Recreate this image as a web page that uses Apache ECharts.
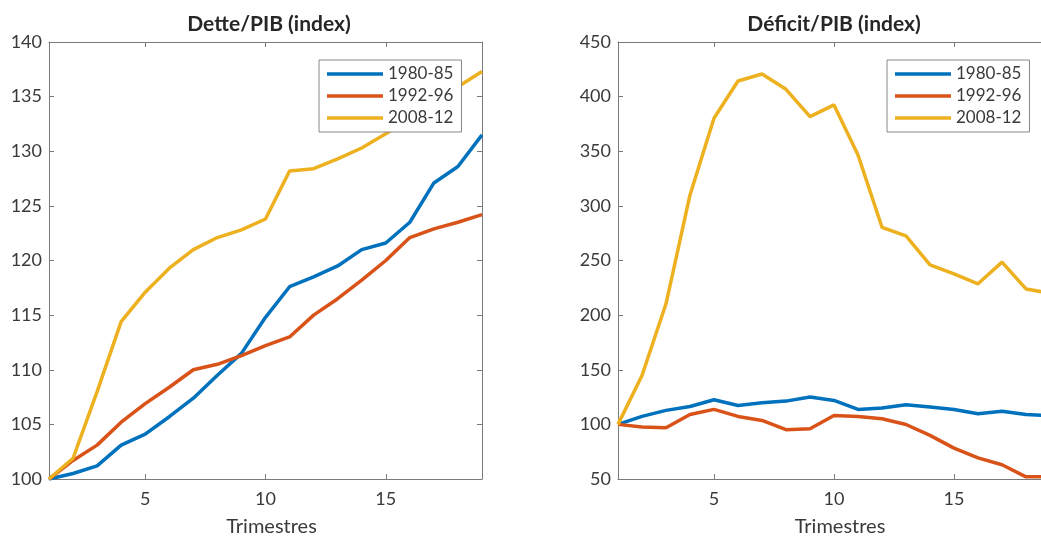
<!DOCTYPE html>
<html>
<head>
<meta charset="utf-8">
<script src="https://cdn.jsdelivr.net/npm/echarts@6/dist/echarts.min.js"></script>
<style>
html,body{margin:0;padding:0;background:#fff;overflow:hidden;}
#chart{width:1041px;height:537px;}
</style>
</head>
<body>
<div id="chart"></div>
<script>
const trimestres = [1,2,3,4,5,6,7,8,9,10,11,12,13,14,15,16,17,18,19];
const seriesNames = ['1980-85','1992-96','2008-12'];
const titles = ['Dette/PIB (index)','Déficit/PIB (index)'];
const xAxisName = 'Trimestres';
const xTicks = [5,10,15];

const detteA = [100,100.5,101.2,103.1,104.1,105.7,107.4,109.5,111.5,114.8,117.6,118.5,119.5,121.0,121.6,123.5,127.1,128.6,131.5];
const detteB = [100,101.7,103.1,105.2,106.9,108.4,110.0,110.5,111.3,112.2,113.0,115.0,116.5,118.2,120.0,122.1,122.9,123.5,124.2];
const detteC = [100,101.9,108.0,114.4,117.1,119.3,121.0,122.1,122.8,123.8,128.2,128.4,129.3,130.3,131.6,133.0,134.5,135.9,137.3];

const deficitA = [100,107.3,112.8,116.4,122.5,117.3,119.8,121.3,125.0,121.9,113.7,114.9,117.9,115.8,113.7,109.7,112.1,109.1,107.9];
const deficitB = [100,97.5,96.9,109.1,113.7,107.3,103.6,95.1,96.0,108.2,107.3,105.1,99.9,89.9,78.3,69.4,63.0,52.0,52.0];
const deficitC = [100,144.8,210.4,310.0,380.2,414.3,420.7,406.7,381.7,392.4,346.6,280.4,272.5,246.0,237.8,228.7,248.5,224.0,220.0];

const colors = ['#0072BD','#D95319','#EDB120'];
const FONT = 'Lato';
const AX = '#7a7a7a';
const TXT = '#3a3a3a';

function pairs(vals){ return trimestres.map((t,i)=>[t, vals[i]]); }

function xAxes(gridIndex, showLabels, position){
  return {
    type:'value', gridIndex, position, min:1, max:19,
    axisLine:{show:true, onZero:false, lineStyle:{color:AX,width:1}},
    axisTick:{show:true, inside:true, length:5, customValues:xTicks, lineStyle:{color:AX}},
    axisLabel:{show:showLabels, customValues:xTicks, color:TXT, fontFamily:FONT, fontSize:18, margin:11},
    splitLine:{show:false},
    name: showLabels ? xAxisName : '',
    nameLocation:'middle', nameGap:38,
    nameTextStyle:{color:TXT, fontFamily:FONT, fontSize:20, padding:[0,0,0,12]}
  };
}
function yAxes(gridIndex, showLabels, position, min, max, interval){
  return {
    type:'value', gridIndex, position, min, max, interval,
    axisLine:{show:true, onZero:false, lineStyle:{color:AX,width:1}},
    axisTick:{show:true, inside:true, length:5, lineStyle:{color:AX}},
    axisLabel:{show:showLabels, color:TXT, fontFamily:FONT, fontSize:18, margin:7},
    splitLine:{show:false}
  };
}
function line(name, vals, xi, yi, ci){
  return {
    name, type:'line', xAxisIndex:xi, yAxisIndex:yi, data:pairs(vals),
    showSymbol:false, symbol:'none', clip:true,
    lineStyle:{color:colors[ci], width:3.5}, itemStyle:{color:colors[ci]},
    emphasis:{disabled:true}, animation:false
  };
}
function legend(left){
  return {
    left, top:60, orient:'vertical', data:seriesNames,
    icon:'rect', itemWidth:56, itemHeight:3.5, itemGap:4,
    padding:[5,8,5,8], borderColor:'#888', borderWidth:1, backgroundColor:'#fff',
    textStyle:{color:TXT, fontFamily:FONT, fontSize:17, lineHeight:18},
    selectedMode:false
  };
}

const chart = echarts.init(document.getElementById('chart'), null, {renderer:'canvas'});
chart.setOption({
  animation:false,
  backgroundColor:'#fff',
  title:[
    {text:titles[0], left:264, top:9, textAlign:'center', textStyle:{fontFamily:FONT, fontSize:21, fontWeight:'bold', color:'#262626'}},
    {text:titles[1], left:829, top:9, textAlign:'center', textStyle:{fontFamily:FONT, fontSize:21, fontWeight:'bold', color:'#262626'}}
  ],
  legend:[legend(319), legend(887)],
  grid:[
    {left:49, top:42, width:433, height:437, containLabel:false, outerBoundsMode:'none'},
    {left:618, top:42, width:432, height:437, containLabel:false, outerBoundsMode:'none'}
  ],
  xAxis:[xAxes(0,true,'bottom'), xAxes(0,false,'top'), xAxes(1,true,'bottom'), xAxes(1,false,'top')],
  yAxis:[
    yAxes(0,true,'left',100,140,5), yAxes(0,false,'right',100,140,5),
    yAxes(1,true,'left',50,450,50), yAxes(1,false,'right',50,450,50)
  ],
  series:[
    line(seriesNames[0], detteA, 0, 0, 0),
    line(seriesNames[1], detteB, 0, 0, 1),
    line(seriesNames[2], detteC, 0, 0, 2),
    line(seriesNames[0], deficitA, 2, 2, 0),
    line(seriesNames[1], deficitB, 2, 2, 1),
    line(seriesNames[2], deficitC, 2, 2, 2)
  ]
});
</script>
</body>
</html>
